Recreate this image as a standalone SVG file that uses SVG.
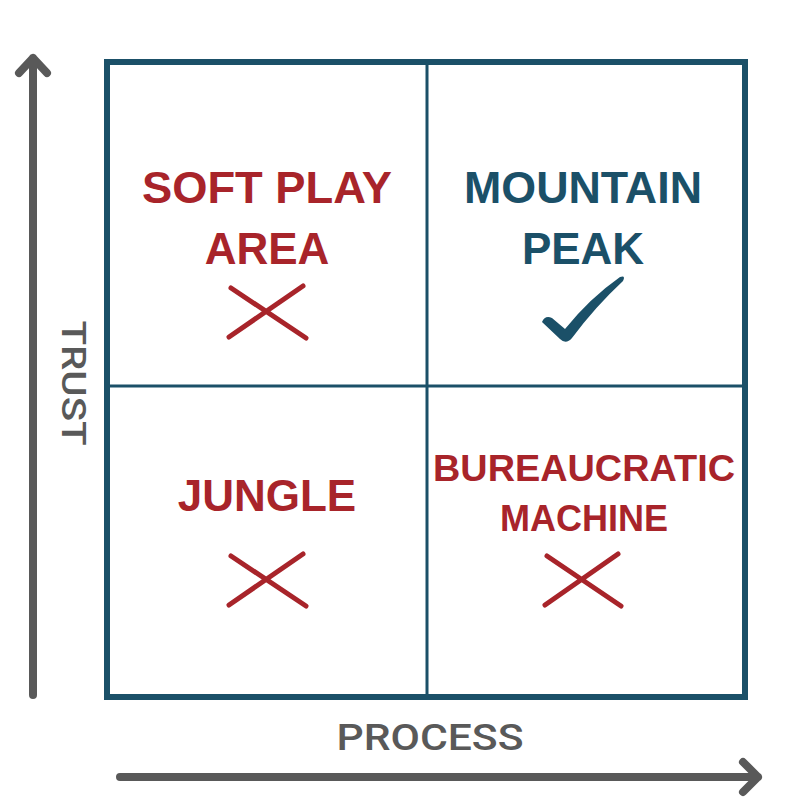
<svg xmlns="http://www.w3.org/2000/svg" width="800" height="800" viewBox="0 0 800 800">
<defs>
<style>
.frame{fill:none;stroke:#1b5068;stroke-width:6}
.div{stroke:#1b5068;stroke-width:3;fill:none}
.axis{stroke:#595959;stroke-width:8;fill:none;stroke-linecap:round;stroke-linejoin:round}
.lbl{font-family:"Liberation Sans",Arial,sans-serif;font-weight:bold;text-anchor:middle}
.red{fill:#a8242a}
.teal{fill:#1b5068}
.ax{font-family:Roboto,"Liberation Sans",sans-serif;font-weight:500;fill:#595959;text-anchor:middle}
.x{stroke:#a8242a;stroke-width:5;stroke-linecap:round;fill:none}
</style>
</defs>
<rect width="800" height="800" fill="#ffffff"/>
<g id="connectors">
<path class="axis" d="M33 695 V58 M19 73 L33 58 L47 73"/>
<path class="axis" d="M120 777 H758 M743 762 L758 777 L743 792"/>
</g>
<g id="grid">
<rect class="frame" x="107" y="62" width="638" height="635"/>
<line class="div" x1="427" y1="62" x2="427" y2="697"/>
<line class="div" x1="107" y1="386" x2="745" y2="386"/>
</g>
<g id="axis-trust">
<text class="ax" font-size="34" transform="translate(62 383) rotate(90)" textLength="125" lengthAdjust="spacingAndGlyphs">TRUST</text>
</g>
<g id="axis-process">
<text class="ax" x="430" y="750" font-size="36" textLength="187" lengthAdjust="spacingAndGlyphs">PROCESS</text>
</g>
<g id="soft-play">
<text class="lbl red" x="267" y="203" font-size="44" textLength="250" lengthAdjust="spacingAndGlyphs">SOFT PLAY</text>
<text class="lbl red" x="267" y="264" font-size="44">AREA</text>
<path class="x" d="M231 288 L306 338 M303 286 L229 337"/>
</g>
<g id="mountain-peak">
<text class="lbl teal" x="583" y="203" font-size="44" textLength="238" lengthAdjust="spacingAndGlyphs">MOUNTAIN</text>
<text class="lbl teal" x="583" y="264" font-size="44">PEAK</text>
<path class="teal" d="M542 322 Q545 315 552 318 L565 329 Q590 298 620 277 Q626 275 623 281 Q595 307 572 338 Q566 345 560 339 Z"/>
</g>
<g id="jungle">
<text class="lbl red" x="267" y="511" font-size="44">JUNGLE</text>
<path class="x" d="M231 556 L306 606 M303 554 L229 605"/>
</g>
<g id="bureaucratic-machine">
<text class="lbl red" x="584" y="481" font-size="36" textLength="302" lengthAdjust="spacingAndGlyphs">BUREAUCRATIC</text>
<text class="lbl red" x="584" y="531" font-size="36">MACHINE</text>
<path class="x" d="M547 556 L621 606 M618 554 L545 605"/>
</g>
</svg>
